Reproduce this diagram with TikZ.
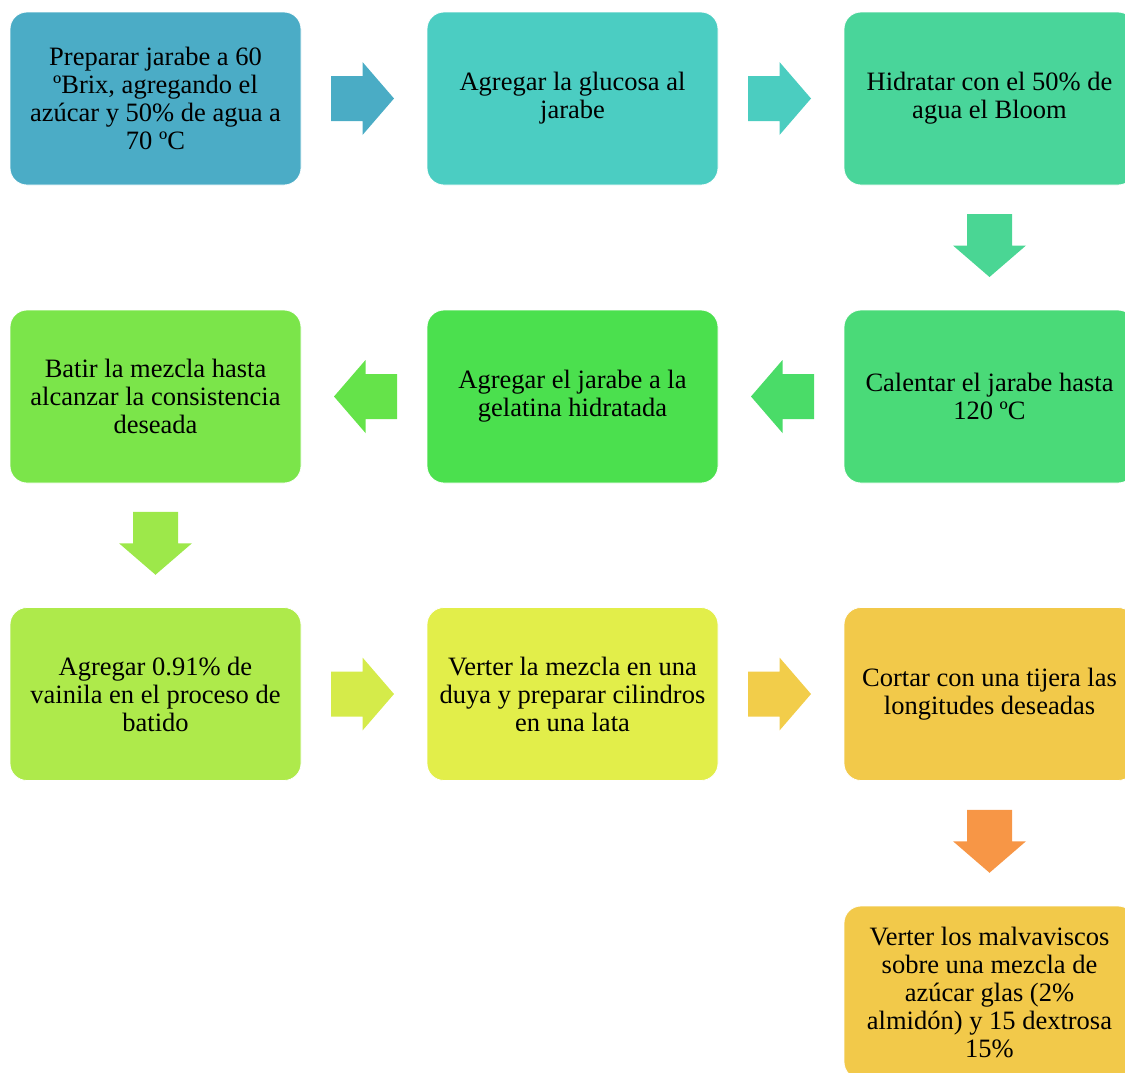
\documentclass[tikz,border=0pt]{standalone}
\usepackage{fontspec}
\setmainfont{Liberation Serif}
\usetikzlibrary{calc}

% step box fills
\definecolor{bA}{HTML}{4BACC6}
\definecolor{bB}{HTML}{4BCDC2}
\definecolor{bC}{HTML}{49D59A}
\definecolor{bD}{HTML}{4ADA78}
\definecolor{bE}{HTML}{4BE04E}
\definecolor{bF}{HTML}{7BE54A}
\definecolor{bG}{HTML}{AEEA4B}
\definecolor{bH}{HTML}{E2EE4A}
\definecolor{bI}{HTML}{F2C94A}
\definecolor{bJ}{HTML}{F2C94A}
% block arrow fills
\definecolor{aA}{HTML}{4AACC5}
\definecolor{aB}{HTML}{4BCDC0}
\definecolor{aC}{HTML}{4AD694}
\definecolor{aD}{HTML}{4ADC68}
\definecolor{aE}{HTML}{65E34A}
\definecolor{aF}{HTML}{9DE84A}
\definecolor{aG}{HTML}{D5EB4A}
\definecolor{aH}{HTML}{F2CD4A}
\definecolor{aI}{HTML}{F79646}

\tikzset{
  stepbox/.style={draw=white, line width=0.8pt, rounded corners=17pt,
    minimum width=291pt, minimum height=173pt, inner sep=0pt,
    align=center, font=\fontsize{26.5}{28}\selectfont, text=black}
}

% block arrow pointing along +x, centred on a named coordinate
\newcommand\blockarr[3]{%
  \fill[#2, shift={(#1)}, rotate=#3]
    (-31.5pt,-22.5pt) -- (0pt,-22.5pt) -- (0pt,-36.5pt) -- (31.5pt,0pt)
    -- (0pt,36.5pt) -- (0pt,22.5pt) -- (-31.5pt,22.5pt) -- cycle;}

\begin{document}
\begin{tikzpicture}[x=1pt,y=-1pt]
\useasboundingbox (0,0) rectangle (1125,1072);
\clip (0,0) rectangle (1125,1072);

% row 1
\node[stepbox, fill=bA] (s1) at (155.5,98.5) {Preparar jarabe a 60\\ ºBrix, agregando el\\ azúcar y 50\% de agua a\\ 70 ºC};
\node[stepbox, fill=bB] (s2) at (572.5,98.5) {Agregar la glucosa al\\ jarabe};
\node[stepbox, fill=bC] (s3) at (989.5,98.5) {Hidratar con el 50\% de\\ agua el Bloom};
% row 2
\node[stepbox, fill=bD] (s4) at (989.5,396.5) {Calentar el jarabe hasta\\ 120 ºC};
\node[stepbox, fill=bE] (s5) at (572.5,396.5) {Agregar el jarabe a la\\ gelatina hidratada};
\node[stepbox, fill=bF] (s6) at (155.5,396.5) {Batir la mezcla hasta\\ alcanzar la consistencia\\ deseada};
% row 3
\node[stepbox, fill=bG] (s7) at (155.5,694) {Agregar 0.91\% de\\ vainila en el proceso de\\ batido};
\node[stepbox, fill=bH] (s8) at (572.5,694) {Verter la mezcla en una\\ duya y preparar cilindros\\ en una lata};
\node[stepbox, fill=bI] (s9) at (989.5,694) {Cortar con una tijera las\\ longitudes deseadas};
% row 4
\node[stepbox, fill=bJ] (s10) at (989.5,992.5) {Verter los malvaviscos\\ sobre una mezcla de\\ azúcar glas (2\%\\ almidón) y 15 dextrosa\\ 15\%};

% arrow anchors between consecutive steps
\coordinate (m12) at ($(s1.east)!0.5!(s2.west)+(-1.5,0)$);
\coordinate (m23) at ($(s2.east)!0.5!(s3.west)+(-1.5,0)$);
\coordinate (m34) at ($(s3.south)!0.5!(s4.north)+(0,-2)$);
\coordinate (m45) at ($(s4.west)!0.5!(s5.east)+(1.5,0)$);
\coordinate (m56) at ($(s5.west)!0.5!(s6.east)+(1.5,0)$);
\coordinate (m67) at ($(s6.south)!0.5!(s7.north)+(0,-2)$);
\coordinate (m78) at ($(s7.east)!0.5!(s8.west)+(-1.5,0)$);
\coordinate (m89) at ($(s8.east)!0.5!(s9.west)+(-1.5,0)$);
\coordinate (m910) at ($(s9.south)!0.5!(s10.north)+(0,-2)$);

\blockarr{m12}{aA}{0}
\blockarr{m23}{aB}{0}
\blockarr{m34}{aC}{-90}
\blockarr{m45}{aD}{180}
\blockarr{m56}{aE}{180}
\blockarr{m67}{aF}{-90}
\blockarr{m78}{aG}{0}
\blockarr{m89}{aH}{0}
\blockarr{m910}{aI}{-90}
\end{tikzpicture}
\end{document}
